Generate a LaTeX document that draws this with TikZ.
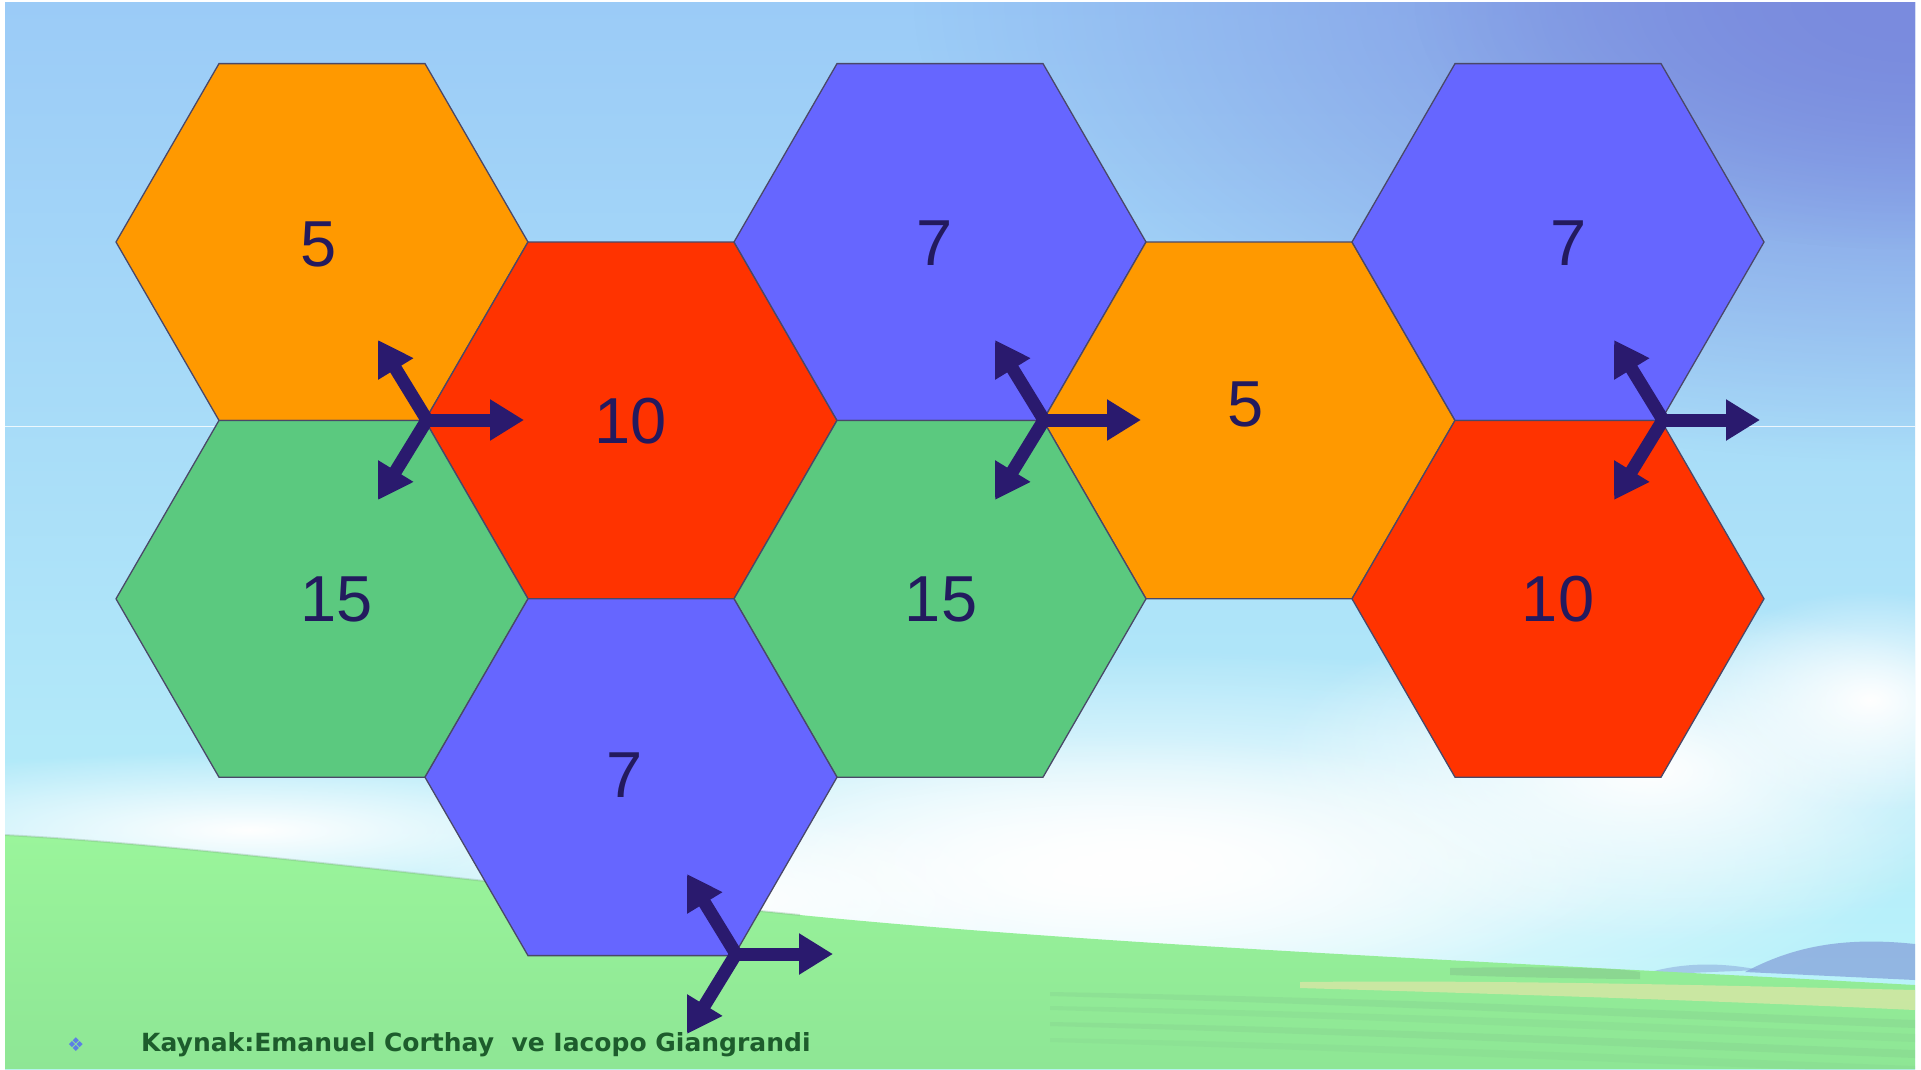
\documentclass[tikz,border=0pt]{standalone}
\usepackage{fontspec}
\setmainfont{Liberation Sans}
\newfontfamily\notefont{DejaVu Sans}
\usetikzlibrary{shapes.geometric,arrows.meta,fadings}

\definecolor{hexorange}{HTML}{FF9900}
\definecolor{hexred}{HTML}{FF3300}
\definecolor{hexblue}{HTML}{6666FF}
\definecolor{hexgreen}{HTML}{5BC97F}
\definecolor{ink}{HTML}{2A1A6E}
\definecolor{labelink}{HTML}{231A5E}
\definecolor{edge}{HTML}{4A4868}
\definecolor{skytop}{HTML}{9BCBF7}
\definecolor{skymid}{HTML}{A8E0FA}
\definecolor{skylow}{HTML}{BCF6FA}
\definecolor{skyviolet}{HTML}{7A8BDE}
\definecolor{grass}{HTML}{9AF59B}
\definecolor{grassdark}{HTML}{8EE695}
\definecolor{notegreen}{HTML}{1D5C2C}
\definecolor{bulletblue}{HTML}{5C7EE6}
\definecolor{hill}{HTML}{86A2DA}
\definecolor{field}{HTML}{E2E6A8}
\definecolor{fielddark}{HTML}{7EBE8A}

\tikzfading[name=glow, inner color=transparent!0, outer color=transparent!100]

\begin{document}
\begin{tikzpicture}[x=1pt,y=-1pt,
  hex/.style={regular polygon, regular polygon sides=6, minimum size=412pt,
              inner sep=0pt, outer sep=0pt, draw=edge, line width=1.3pt},
  num/.style={text=labelink, font=\fontsize{65}{65}\selectfont, inner sep=0pt, anchor=center},
  arr/.style={draw=ink, line width=13pt, line cap=round, -{Triangle[width=39pt,length=34pt]}},
  cloud/.style={fill=white, path fading=glow},
  ]
\useasboundingbox (0,0) rectangle (1921,1069);
\fill[white] (0,0) rectangle (1921,1069);

% ---------- background scene ----------
\begin{scope}
\clip (5,2) rectangle (1915,1069);
\shade[top color=skytop, middle color=skymid, bottom color=skylow] (5,2) rectangle (1915,1069);
\fill[skyviolet, path fading=glow] (1915,0) ellipse [x radius=1000, y radius=460];
\fill[skyviolet, path fading=glow] (1915,0) ellipse [x radius=500, y radius=250];
% clouds
\fill[cloud] (1150,860) ellipse [x radius=760, y radius=210];
\fill[cloud] (1100,875) ellipse [x radius=520, y radius=140];
\fill[cloud] (1650,770) ellipse [x radius=380, y radius=170];
\fill[cloud] (1870,700) ellipse [x radius=180, y radius=110];
\fill[cloud] (250,830) ellipse [x radius=480, y radius=80];
\fill[cloud] (720,900) ellipse [x radius=320, y radius=90];
% distant mountains
\fill[hill, opacity=0.75] (1745,972) .. controls (1790,948) and (1840,936) .. (1915,944) -- (1915,980) -- cycle;
\fill[hill, opacity=0.5] (1640,975) .. controls (1680,962) and (1720,962) .. (1760,970) -- cycle;
% grass
\shade[top color=grass, bottom color=grassdark]
  (5,835) .. controls (200,845) and (500,885) .. (800,915)
  .. controls (1100,945) and (1500,962) .. (1915,985)
  -- (1915,1069) -- (5,1069) -- cycle;
\draw[fielddark!70!gray, opacity=0.3, line width=2pt]
  (5,835) .. controls (200,845) and (500,885) .. (800,915);
% fields at the bottom right
\fill[fielddark!80!gray, opacity=0.35] (1450,968) .. controls (1550,966) and (1620,968) .. (1640,972)
  -- (1640,979) .. controls (1600,979) and (1500,977) .. (1450,975) -- cycle;
\fill[field, opacity=0.7] (1300,982) .. controls (1500,980) and (1700,985) .. (1915,990)
  -- (1915,1010) .. controls (1700,1000) and (1500,994) .. (1300,988) -- cycle;
\foreach \o/\a in {0/0.22, 14/0.16, 30/0.2, 46/0.14}{
  \fill[fielddark, opacity=\a] (1050,992+\o) .. controls (1400,998+\o) and (1700,1012+\o) .. (1915,1020+\o)
    -- (1915,1028+\o) .. controls (1700,1020+\o) and (1400,1006+\o) .. (1050,996+\o) -- cycle;
}
\end{scope}
\draw[white, opacity=0.8, line width=1pt] (5,426) -- (1915,426);

% ---------- hexagons ----------
\node[hex, fill=hexorange] (h1) at (322,242)   {};
\node[hex, fill=hexred]    (h2) at (631,420.4) {};
\node[hex, fill=hexblue]   (h3) at (940,242)   {};
\node[hex, fill=hexorange] (h4) at (1249,420.4) {};
\node[hex, fill=hexblue]   (h5) at (1558,242)  {};
\node[hex, fill=hexgreen]  (h6) at (322,598.8) {};
\node[hex, fill=hexgreen]  (h7) at (940,598.8) {};
\node[hex, fill=hexred]    (h8) at (1558,598.8) {};
\node[hex, fill=hexblue]   (h9) at (631,777.2) {};

% ---------- numbers ----------
\node[num] (n1) at (319,244) {5};
\node[num] (n2) at (631,421) {10};
\node[num] (n3) at (935,243) {7};
\node[num] (n4) at (1246,404) {5};
\node[num] (n5) at (1569,243) {7};
\node[num] (n6) at (337,599) {15};
\node[num] (n7) at (941,599) {15};
\node[num] (n8) at (1558,599) {10};
\node[num] (n9) at (625,775) {7};

% ---------- tripods ----------
\foreach \i/\cx/\cy in {1/427/420, 2/1044/420, 3/1663/420, 4/736/954}{
  \coordinate (c\i) at (\cx,\cy);
  \coordinate (r\i) at (\cx+97,\cy);
  \coordinate (u\i) at (\cx-49,\cy-80);
  \coordinate (d\i) at (\cx-49,\cy+80);
  \draw[arr] (c\i) -- (r\i);
  \draw[arr] (c\i) -- (u\i);
  \draw[arr] (c\i) -- (d\i);
}

% ---------- source note ----------
\node[text=bulletblue, font=\notefont\fontsize{19}{19}\selectfont, inner sep=0pt] (bul) at (76,1045) {❖};
\node[anchor=west, text=notegreen, font=\notefont\bfseries\fontsize{25}{25}\selectfont, inner sep=0pt]
  (src) at (141,1045) {Kaynak:Emanuel Corthay\ \ ve Iacopo Giangrandi};
\end{tikzpicture}
\end{document}
